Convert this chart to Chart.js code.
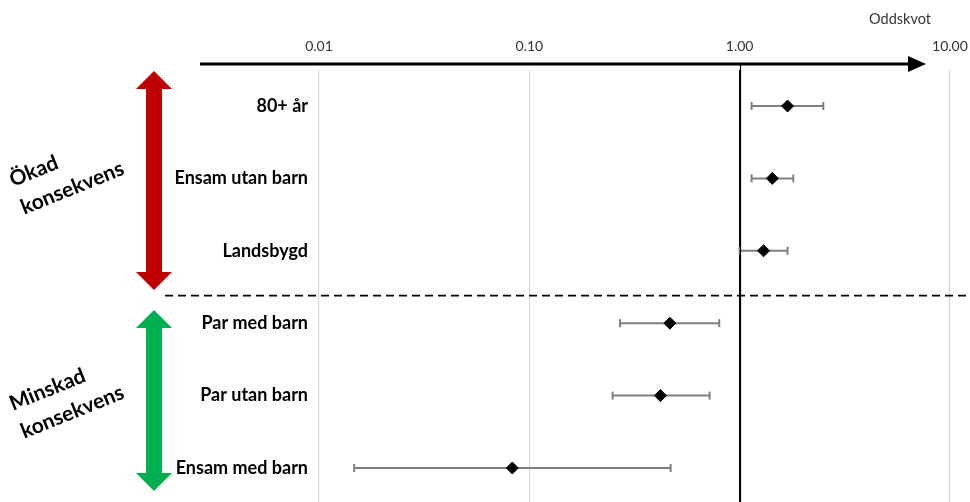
<!DOCTYPE html>
<html>
<head>
<meta charset="utf-8">
<script src="https://cdn.jsdelivr.net/npm/chart.js@4/dist/chart.umd.min.js"></script>
<style>
  html, body { margin: 0; padding: 0; background: #fff; }
  #wrap { width: 970px; height: 502px; position: relative; }
</style>
</head>
<body>
<div id="wrap"><canvas id="chart"></canvas></div>
<script>
// Data
const categories = ['80+ år', 'Ensam utan barn', 'Landsbygd', 'Par med barn', 'Par utan barn', 'Ensam med barn'];
const oddsRatio = [1.69, 1.43, 1.30, 0.466, 0.42, 0.083];
const ciLow = [1.14, 1.14, 1.00, 0.27, 0.249, 0.0147];
const ciHigh = [2.50, 1.80, 1.69, 0.80, 0.72, 0.47];
const tickValues = [0.01, 0.1, 1, 10];

const groupLabels = [['Ökad', 'konsekvens'], ['Minskad', 'konsekvens']];

// error bar datasets, one per row
const errorSets = categories.map((c, i) => ({
    type: 'scatter',
    label: c + ' CI',
    data: [{ x: ciLow[i], y: i }, { x: ciHigh[i], y: i }],
    showLine: true,
    borderColor: '#7f7f7f',
    borderWidth: 2,
    pointStyle: 'line',
    rotation: 90,
    pointRadius: 4,
    pointBorderColor: '#7f7f7f',
    pointBorderWidth: 2,
    pointHoverRadius: 4
}));

const pointSet = {
    type: 'scatter',
    label: 'Oddskvot',
    data: categories.map((c, i) => ({ x: oddsRatio[i], y: i })),
    pointStyle: 'rectRot',
    pointRadius: 6,
    backgroundColor: '#000',
    borderColor: '#000',
    pointHoverRadius: 6
};

function drawDoubleArrow(ctx, x, top, bottom, color) {
    const shaft = 8, head = 18, headLen = 18;
    ctx.fillStyle = color;
    ctx.beginPath();
    ctx.moveTo(x, top);
    ctx.lineTo(x + head, top + headLen);
    ctx.lineTo(x + shaft, top + headLen);
    ctx.lineTo(x + shaft, bottom - headLen);
    ctx.lineTo(x + head, bottom - headLen);
    ctx.lineTo(x, bottom);
    ctx.lineTo(x - head, bottom - headLen);
    ctx.lineTo(x - shaft, bottom - headLen);
    ctx.lineTo(x - shaft, top + headLen);
    ctx.lineTo(x - head, top + headLen);
    ctx.closePath();
    ctx.fill();
}

function drawRotated(ctx, lines, x, y) {
    ctx.save();
    ctx.translate(x, y);
    ctx.rotate(-22 * Math.PI / 180);
    ctx.font = 'bold 21px Lato';
    ctx.fillStyle = '#000';
    ctx.textAlign = 'left';
    ctx.textBaseline = 'alphabetic';
    lines.forEach((t, k) => ctx.fillText(t, 0, k * 30));
    ctx.restore();
}

const decorations = {
    id: 'decorations',
    afterDatasetsDraw(chart) {
        const ctx = chart.ctx;
        const xs = chart.scales.x;
        const ys = chart.scales.y;
        const area = chart.chartArea;
        ctx.save();

        // reference line at 1.00
        const x1 = Math.round(xs.getPixelForValue(1)) + 0.5;
        ctx.strokeStyle = '#000';
        ctx.lineWidth = 1.2;
        ctx.beginPath();
        ctx.moveTo(x1, 64);
        ctx.lineTo(x1, area.bottom);
        ctx.stroke();

        // axis arrow
        ctx.strokeStyle = '#000';
        ctx.lineWidth = 3;
        ctx.beginPath();
        ctx.moveTo(200, 64);
        ctx.lineTo(910, 64);
        ctx.stroke();
        ctx.fillStyle = '#000';
        ctx.beginPath();
        ctx.moveTo(926, 64);
        ctx.lineTo(908, 56);
        ctx.lineTo(908, 72);
        ctx.closePath();
        ctx.fill();

        // dashed separator
        const yd = ys.getPixelForValue(2.62);
        ctx.setLineDash([8, 5]);
        ctx.lineWidth = 1.6;
        ctx.beginPath();
        ctx.moveTo(165, yd);
        ctx.lineTo(970, yd);
        ctx.stroke();
        ctx.setLineDash([]);

        // group arrows
        drawDoubleArrow(ctx, 154, 71, 290, '#c00000');
        drawDoubleArrow(ctx, 154, 310, 491, '#00b050');

        drawRotated(ctx, groupLabels[0], 13, 187);
        drawRotated(ctx, groupLabels[1], 13, 411);

        // axis title
        ctx.font = '14.5px Lato';
        ctx.fillStyle = '#333';
        ctx.textAlign = 'right';
        ctx.textBaseline = 'middle';
        ctx.fillText('Oddskvot', 931, 19);
        ctx.restore();
    }
};

new Chart(document.getElementById('chart'), {
    type: 'scatter',
    data: { datasets: [pointSet, ...errorSets] },
    options: {
        responsive: true,
        maintainAspectRatio: false,
        animation: false,
        layout: { padding: 0, autoPadding: false },
        plugins: {
            legend: { display: false },
            tooltip: { enabled: false }
        },
        scales: {
            x: {
                type: 'logarithmic',
                position: 'top',
                min: 0.01,
                max: 12.46,
                afterBuildTicks: axis => { axis.ticks = tickValues.map(v => ({ value: v })); },
                afterFit: axis => {
                    axis.height = 70;
                    axis.paddingLeft = 0;
                    axis.paddingRight = 0;
                },
                border: { display: false },
                grid: {
                    drawTicks: false,
                    color: ctx => ctx.tick && ctx.tick.value === 1 ? '#000' : '#d9d9d9',
                    lineWidth: 1.2
                },
                ticks: {
                    autoSkip: false,
                    maxRotation: 0,
                    padding: 15,
                    color: '#333',
                    font: { family: 'Lato', size: 14 },
                    callback: v => Number(v).toFixed(2)
                }
            },
            y: {
                type: 'linear',
                reverse: true,
                min: -0.497,
                max: 5.47,
                afterBuildTicks: axis => { axis.ticks = categories.map((c, i) => ({ value: i })); },
                afterFit: axis => {
                    axis.width = 319;
                    axis.paddingTop = 0;
                    axis.paddingBottom = 0;
                },
                border: { display: false },
                grid: { display: false, drawTicks: false },
                ticks: {
                    autoSkip: false,
                    padding: 11,
                    color: '#000',
                    font: { family: 'Lato', size: 18, weight: 'bold' },
                    callback: v => categories[v]
                }
            }
        }
    },
    plugins: [decorations]
});
</script>
</body>
</html>
